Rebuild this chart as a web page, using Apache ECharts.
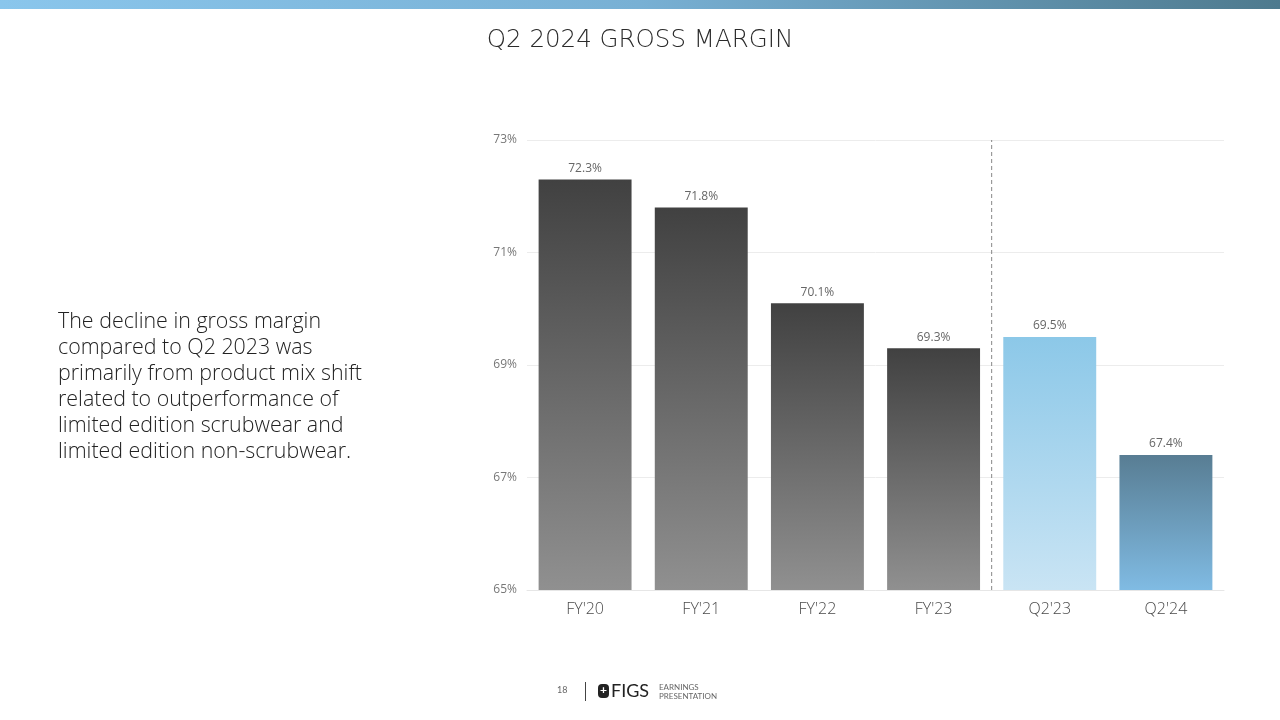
<!DOCTYPE html>
<html><head><meta charset="utf-8">
<script src="https://cdn.jsdelivr.net/npm/echarts@6/dist/echarts.min.js"></script>
<style>html,body{margin:0;padding:0;background:#fff}#c{width:1280px;height:720px}</style>
</head><body><div id="c"></div>
<script>
const categories = ["FY'20","FY'21","FY'22","FY'23","Q2'23","Q2'24"];
const grossMargin = [72.3, 71.8, 70.1, 69.3, 69.5, 67.4];
const barGroups = ["fy","fy","fy","fy","q23","q24"];
const axisMin = 65, axisMax = 73, axisStep = 2;
const dividerAt = 4; // boundary between FY'23 and Q2'23 (category index)

const grad = (top, bottom) => new echarts.graphic.LinearGradient(0,0,0,1,[{offset:0,color:top},{offset:1,color:bottom}]);
const styles = {
  fy: () => grad('#414141', '#909090'),
  q23: () => grad('#8cc8e8', '#c9e4f4'),
  q24: () => grad('#587d93', '#80bbe3')
};

const chart = echarts.init(document.getElementById('c'));
chart.setOption({
  animation: false,
  title: {
    text: 'Q2 2024 GROSS MARGIN', left: 'center', top: 23,
    textStyle: {fontFamily: 'DejaVu Sans', fontWeight: 200, fontSize: 24.5, color: '#2b2b2b'}
  },
  grid: {left: 527, right: 56, top: 140, bottom: 130},
  xAxis: [{
    type: 'category', data: categories,
    axisLine: {lineStyle: {color: '#e6e6e6'}}, axisTick: {show: false},
    axisLabel: {color: '#4a4a4a', fontSize: 16, fontFamily: 'Open Sans', fontWeight: 300, margin: 11}
  }, {
    type: 'value', min: 0, max: categories.length, show: false
  }],
  yAxis: {
    type: 'value', min: axisMin, max: axisMax, interval: axisStep,
    axisLine: {show: false}, axisTick: {show: false},
    splitLine: {lineStyle: {color: '#ececec'}},
    axisLabel: {color: '#777', fontSize: 12, fontFamily: 'Open Sans', margin: 10, formatter: v => v + '%'}
  },
  series: [{
    type: 'bar', barWidth: '80%',
    data: grossMargin.map((v, i) => ({value: v, itemStyle: {color: styles[barGroups[i]]()}})),
    label: {show: true, position: 'top', distance: 5, color: '#666', fontSize: 12, fontFamily: 'Open Sans', formatter: p => p.value.toFixed(1) + '%'}
  }, {
    type: 'line', xAxisIndex: 1, symbol: 'none',
    data: [[dividerAt, axisMin], [dividerAt, axisMax]],
    lineStyle: {color: '#888', width: 1, type: [4, 3]}
  }],
  graphic: [
    {type: 'rect', left: 0, top: 0, shape: {width: 1280, height: 9},
     style: {fill: new echarts.graphic.LinearGradient(0,0,1,0,[{offset:0,color:'#8ac6ec'},{offset:0.5,color:'#78b0d4'},{offset:1,color:'#4e7a8e'}])}},
    {type: 'text', left: 58, top: 309,
     style: {text: 'The decline in gross margin\ncompared to Q2 2023 was\nprimarily from product mix shift\nrelated to outperformance of\nlimited edition scrubwear and\nlimited edition non-scrubwear.',
       font: '300 21.4px "Open Sans"', fill: '#222', lineHeight: 26}},
    {type: 'text', left: 557, top: 686, style: {text: '18', font: '9px Lato', fill: '#666'}},
    {type: 'rect', left: 585, top: 682, shape: {width: 1, height: 19}, style: {fill: '#444'}},
    {type: 'rect', left: 598, top: 684, shape: {width: 11, height: 14, r: 4}, style: {fill: '#222'}},
    {type: 'text', left: 600, top: 684, style: {text: '+', font: 'bold 12px Lato', fill: '#fff'}},
    {type: 'text', left: 611, top: 682, style: {text: 'FIGS', font: '18px Lato', fill: '#222'}},
    {type: 'text', left: 659, top: 683, style: {text: 'EARNINGS\nPRESENTATION', font: '8px Lato', fill: '#666', lineHeight: 9}}
  ]
});
</script></body></html>
